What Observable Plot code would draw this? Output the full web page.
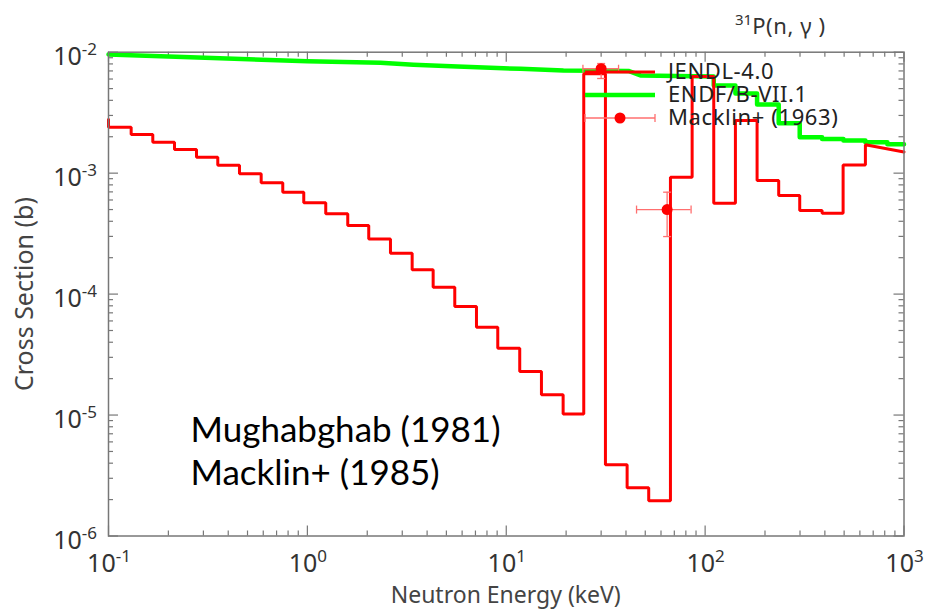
<!DOCTYPE html>
<html><head><meta charset="utf-8">
<script src="https://cdn.jsdelivr.net/npm/d3@7"></script>
<script src="https://cdn.jsdelivr.net/npm/@observablehq/plot@0.6"></script>
<style>body{margin:0;background:#fff}#chart{width:925px;height:609px}</style>
</head><body><div id="chart"></div>
<script>
// JENDL-4.0 group-wise cross section (keV, barn)
const jendlEdges = [0.1, 0.130, 0.167, 0.2147, 0.277, 0.3544, 0.4556, 0.5857, 0.7521, 0.959,
  1.237, 1.596, 2.035, 2.617, 3.364, 4.29, 5.51, 7.084, 9.064, 11.69,
  15.03, 19.32, 24.53, 31.53, 40.53, 52.04, 66.93, 86.03, 110.5, 142.0,
  182.5, 234.4, 299.0, 387.4, 494.1, 639.6];
const jendlValues = [2.40e-3, 2.09e-3, 1.80e-3, 1.57e-3, 1.355e-3, 1.164e-3, 9.88e-4, 8.32e-4, 6.96e-4, 5.69e-4,
  4.61e-4, 3.69e-4, 2.86e-4, 2.18e-4, 1.59e-4, 1.14e-4, 7.89e-5, 5.32e-5, 3.57e-5, 2.29e-5,
  1.47e-5, 1.02e-5, 6.63e-3, 3.88e-6, 2.50e-6, 1.96e-6, 9.26e-4, 6.30e-3, 5.65e-4, 2.72e-3,
  8.69e-4, 6.53e-4, 4.91e-4, 4.67e-4, 1.17e-3];
const jendlStartValue = 2.78e-3;
const jendlTailE = [639.6, 1000];
const jendlTailV = [1.715e-3, 1.496e-3];

// ENDF/B-VII.1
const endfE = [0.1, 0.2584, 1.0, 2.331, 3.416, 5.684, 8.33, 11.79, 19.39, 41.15, 47.29, 110.5,
  110.5, 142.0, 142.0, 182.5, 182.5, 234.4, 234.4, 299.0, 299.0, 387.4, 387.4, 495.9, 495.9, 639.6, 639.6, 825.0, 825.0, 1000];
const endfV = [9.57e-3, 9.09e-3, 8.42e-3, 8.17e-3, 7.87e-3, 7.62e-3, 7.43e-3, 7.29e-3, 7.06e-3, 7.0e-3, 6.42e-3, 6.30e-3,
  5.31e-3, 5.31e-3, 4.56e-3, 4.56e-3, 3.69e-3, 3.69e-3, 2.59e-3, 2.59e-3, 1.98e-3, 1.98e-3, 1.92e-3, 1.92e-3, 1.86e-3, 1.86e-3, 1.80e-3, 1.80e-3, 1.73e-3, 1.73e-3];

// Macklin+ (1963)
const macklinE = [30.0, 64.4];
const macklinV = [7.3e-3, 5.0e-4];
const macklinElo = [24.3, 45.2];
const macklinEhi = [36.7, 85.0];
const macklinVlo = [6.06e-3, 2.99e-4];
const macklinVhi = [8.06e-3, 6.96e-4];

const xTicks = [0.1, 1, 10, 100, 1000];
const xTickExp = ["-1", "0", "1", "2", "3"];
const yTicks = [1e-6, 1e-5, 1e-4, 1e-3, 1e-2];
const yTickExp = ["-6", "-5", "-4", "-3", "-2"];

const W = 925, H = 609;
const mL = 108, mR = 21.5, mT = 51.7, mB = 73.5;
const plotW = W - mL - mR, plotH = H - mT - mB;

const jendl = [{e: jendlEdges[0], v: jendlStartValue}];
jendlValues.forEach((v, i) => { jendl.push({e: jendlEdges[i], v}); jendl.push({e: jendlEdges[i + 1], v}); });
jendlTailE.forEach((e, i) => jendl.push({e, v: jendlTailV[i]}));
const endf = endfE.map((e, i) => ({e, v: endfV[i]}));
const macklin = macklinE.map((e, i) => ({e, v: macklinV[i], elo: macklinElo[i], ehi: macklinEhi[i], vlo: macklinVlo[i], vhi: macklinVhi[i]}));

const minorX = [], minorY = [];
for (let p = -1; p < 3; p++) for (let k = 2; k <= 9; k++) minorX.push(k * 10 ** p);
for (let p = -6; p < -2; p++) for (let k = 2; k <= 9; k++) minorY.push(k * 10 ** p);

const cap = {draw(ctx, size) { const r = Math.sqrt(size / Math.PI); ctx.moveTo(0, -r); ctx.lineTo(0, r); }};
const capH = {draw(ctx, size) { const r = Math.sqrt(size / Math.PI); ctx.moveTo(-r, 0); ctx.lineTo(r, 0); }};
const axisColor = "#777";
const errColor = "#ff6f6f";
const FONT = "'Noto Sans', sans-serif";

const plot = Plot.plot({
  width: W, height: H,
  marginLeft: mL, marginRight: mR, marginTop: mT, marginBottom: mB,
  style: {background: "#fff", fontFamily: FONT, color: "#333"},
  x: {type: "log", domain: [0.1, 1000], axis: null},
  y: {type: "log", domain: [1e-6, 1e-2], axis: null},
  marks: [
    Plot.tickX(xTicks, {x: d => d, insetTop: plotH - 10, stroke: axisColor, strokeWidth: 1.2}),
    Plot.tickX(xTicks, {x: d => d, insetBottom: plotH - 10, stroke: axisColor, strokeWidth: 1.2}),
    Plot.tickX(minorX, {x: d => d, insetTop: plotH - 5, stroke: axisColor, strokeWidth: 1.2}),
    Plot.tickX(minorX, {x: d => d, insetBottom: plotH - 5, stroke: axisColor, strokeWidth: 1.2}),
    Plot.tickY(yTicks, {y: d => d, insetRight: plotW - 10, stroke: axisColor, strokeWidth: 1.2}),
    Plot.tickY(yTicks, {y: d => d, insetLeft: plotW - 10, stroke: axisColor, strokeWidth: 1.2}),
    Plot.tickY(minorY, {y: d => d, insetRight: plotW - 5, stroke: axisColor, strokeWidth: 1.2}),
    Plot.tickY(minorY, {y: d => d, insetLeft: plotW - 5, stroke: axisColor, strokeWidth: 1.2}),
    Plot.text(["Cross Section (b)"], {frameAnchor: "left", textAnchor: "middle", dx: -84, rotate: -90, fontSize: 25, fill: "#444"}),
    Plot.line(endf, {x: "e", y: "v", stroke: "#00ff00", strokeWidth: 4.5}),
    Plot.line(jendl, {x: "e", y: "v", stroke: "#ff0000", strokeWidth: 3, strokeLinejoin: "miter"}),
    Plot.ruleY(macklin, {x1: "elo", x2: "ehi", y: "v", stroke: errColor, strokeWidth: 1.3}),
    Plot.ruleX(macklin, {x: "e", y1: "vlo", y2: "vhi", stroke: errColor, strokeWidth: 1.3}),
    Plot.dot(macklin, {x: "elo", y: "v", symbol: cap, r: 4, stroke: errColor, strokeWidth: 1.3}),
    Plot.dot(macklin, {x: "ehi", y: "v", symbol: cap, r: 4, stroke: errColor, strokeWidth: 1.3}),
    Plot.dot(macklin, {x: "e", y: "vlo", symbol: capH, r: 4, stroke: errColor, strokeWidth: 1.3}),
    Plot.dot(macklin, {x: "e", y: "vhi", symbol: capH, r: 4, stroke: errColor, strokeWidth: 1.3}),
    Plot.dot(macklin, {x: "e", y: "v", r: 5.5, fill: "#ff0000"}),
    Plot.text(["Mughabghab (1981)\nMacklin+ (1985)"], {frameAnchor: "bottom-left", dx: 82, dy: -51, textAnchor: "start", lineAnchor: "bottom", lineHeight: 1.23, fontSize: 35, fontFamily: "Lato", fill: "#000"}),
    Plot.frame({stroke: axisColor, strokeWidth: 1.5})
  ]
});

const svg = d3.select(plot);
const sx = plot.scale("x"), sy = plot.scale("y");
// tick labels with superscripts
const tl = svg.append("g").attr("fill", "#333").attr("font-family", FONT);
xTicks.forEach((v, i) => {
  const t = tl.append("text").attr("x", sx.apply(v) + 1).attr("y", 572).attr("text-anchor", "middle");
  t.append("tspan").attr("font-size", 25).text("10");
  t.append("tspan").attr("font-size", 17).attr("dy", -10).text(xTickExp[i]);
});
yTicks.forEach((v, i) => {
  const t = tl.append("text").attr("x", 97).attr("y", sy.apply(v) + 13).attr("text-anchor", "end");
  t.append("tspan").attr("font-size", 25).text("10");
  t.append("tspan").attr("font-size", 17).attr("dy", -10).text(yTickExp[i]);
});
// x axis title
svg.append("text").attr("x", (mL + W - mR) / 2).attr("y", 603).attr("text-anchor", "middle")
  .attr("font-family", FONT).attr("font-size", 23).attr("fill", "#444").text("Neutron Energy (keV)");

// legend
const lg = svg.append("g");
const lx1 = 585, lx2 = 655, tx = 668;
lg.append("line").attr("x1", lx1).attr("x2", lx2).attr("y1", 72).attr("y2", 72).attr("stroke", "#ff0000").attr("stroke-width", 3);
lg.append("line").attr("x1", lx1).attr("x2", lx2).attr("y1", 95).attr("y2", 95).attr("stroke", "#00ff00").attr("stroke-width", 4.5);
lg.append("line").attr("x1", lx1).attr("x2", lx2).attr("y1", 118).attr("y2", 118).attr("stroke", errColor).attr("stroke-width", 1.3);
[lx1, lx2].forEach(x => lg.append("line").attr("x1", x).attr("x2", x).attr("y1", 114).attr("y2", 122).attr("stroke", errColor).attr("stroke-width", 1.3));
lg.append("circle").attr("cx", 620).attr("cy", 118).attr("r", 5.5).attr("fill", "#ff0000");
[["JENDL-4.0", 71], ["ENDF/B-VII.1", 94], ["Macklin+ (1963)", 117]].forEach(([t, y]) =>
  lg.append("text").attr("x", tx).attr("y", y).attr("dy", "0.36em").attr("text-anchor", "start").attr("font-size", 22).attr("letter-spacing", 0.6).attr("fill", "#222").attr("font-family", FONT).text(t));
const title = svg.append("text").attr("x", 735).attr("y", 34).attr("fill", "#333").attr("text-anchor", "start").attr("font-family", FONT);
title.append("tspan").attr("font-size", 15).attr("dy", -9).text("31");
title.append("tspan").attr("font-size", 22).attr("dy", 9).attr("letter-spacing", 0.6).text("P(n, γ )");

document.getElementById("chart").appendChild(plot);
</script></body></html>
